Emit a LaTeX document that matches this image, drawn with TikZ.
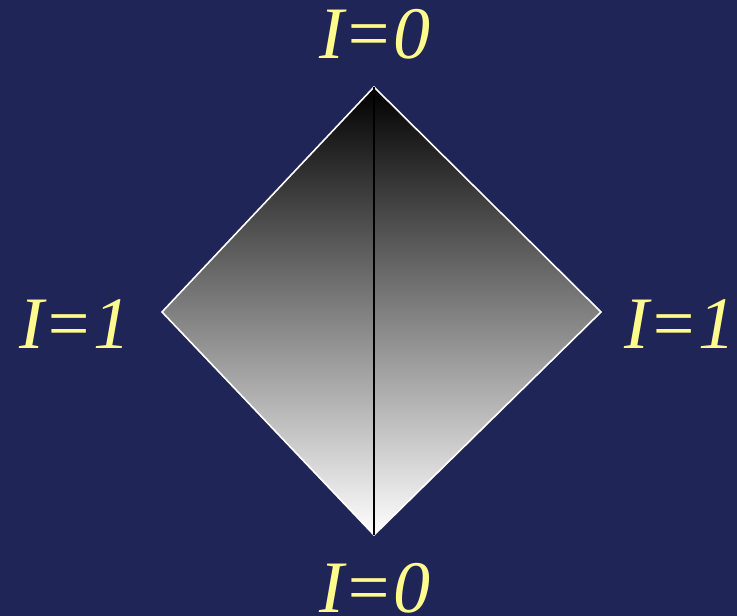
\documentclass[tikz,border=0pt]{standalone}
\usepackage{fontspec}
\setmainfont{Liberation Serif}
\usetikzlibrary{positioning, calc}
\definecolor{Navy}{HTML}{1F2556}
\definecolor{Label}{HTML}{FFFA8C}
\tikzset{
    corner/.style={font=\fontsize{74}{78}\selectfont\itshape, text=Label, inner sep=0pt},
    edge/.style={draw=white, line width=1.6pt, line join=miter},
    axis/.style={draw=black, line width=2pt},
}
\begin{document}
\begin{tikzpicture}[x=1pt, y=-1pt]
                % Sfondo
                \fill[Navy] (0,0) rectangle (737,616);
                \useasboundingbox (0,0) rectangle (737,616);

                % Vertici
                \coordinate (top) at (374,87);
                \coordinate (left) at (162,312);
                \coordinate (right) at (601,312);
                \coordinate (bottom) at (374,535);

                % Rombo
                \shade[top color=black, bottom color=white] (top) -- (right) -- (bottom) -- (left) -- cycle;
                \draw[edge] (top) -- (right) -- (bottom) -- (left) -- cycle;
                \draw[axis] (top) -- (bottom);

                % Etichette
                \node[corner] (ltop) at (375,34) {I=0};
                \node[corner] (lbot) at (375,588) {I=0};
                \node[corner] (lleft) at (75,324) {I=1};
                \node[corner] (lright) at (680,324) {I=1};
            \end{tikzpicture}
\end{document}
